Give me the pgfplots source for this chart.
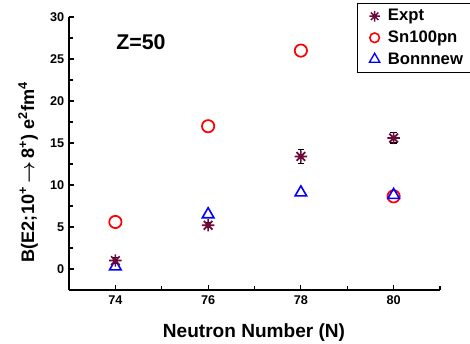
\documentclass[border=0pt]{standalone}
\usepackage{amsmath}
\usepackage{fontspec}
\setmainfont{Liberation Sans}
\usepackage{pgfplots}
\pgfplotsset{compat=1.18}
\definecolor{exptc}{HTML}{6A0A3A}
\pgfdeclareplotmark{ast8}{%
  \pgfpathmoveto{\pgfqpoint{0pt}{\pgfplotmarksize}}\pgfpathlineto{\pgfqpoint{0pt}{-\pgfplotmarksize}}%
  \pgfpathmoveto{\pgfqpoint{\pgfplotmarksize}{0pt}}\pgfpathlineto{\pgfqpoint{-\pgfplotmarksize}{0pt}}%
  \pgfpathmoveto{\pgfqpoint{.707\pgfplotmarksize}{.707\pgfplotmarksize}}\pgfpathlineto{\pgfqpoint{-.707\pgfplotmarksize}{-.707\pgfplotmarksize}}%
  \pgfpathmoveto{\pgfqpoint{-.707\pgfplotmarksize}{.707\pgfplotmarksize}}\pgfpathlineto{\pgfqpoint{.707\pgfplotmarksize}{-.707\pgfplotmarksize}}%
  \pgfusepathqstroke}
\begin{document}
\begin{tikzpicture}
\begin{axis}[scale only axis,
  width=278.25pt, height=204.75pt,
  xmin=73, xmax=81, ymin=-2.5, ymax=30,
  axis x line*=bottom, axis y line*=left,
  axis line style={black, line width=1.1pt},
  tick align=inside, tick style={black, line width=0.8pt},
  major tick length=4pt, minor tick length=3pt,
  xtick={74,76,78,80}, minor xtick={75,77,79,81},
  ytick={0,5,10,15,20,25,30}, minor ytick={2.5,7.5,12.5,17.5,22.5,27.5},
  /pgf/number format/assume math mode=true,
  ticklabel style={font=\bfseries\fontsize{9.5}{11}\selectfont},
  xticklabel style={yshift=-1pt},
  clip=false,
  legend style={at={(0.776,1.051)}, anchor=north west, draw=black, line width=0.6pt,
    font=\bfseries\fontsize{12.5}{14}\selectfont, row sep=2pt, column sep=4pt,
    inner xsep=9pt, inner ysep=2.5pt},
  legend cell align=left,
]
\addlegendimage{only marks, mark=ast8, mark size=4pt, color=exptc, line width=1.1pt}
\addlegendentry{Expt}
\addlegendimage{only marks, mark=o, mark size=3.6pt, color=red, line width=1.2pt}
\addlegendentry{Sn100pn}
\addlegendimage{only marks, mark=triangle, mark size=4.5pt, color=blue, line width=1.0pt}
\addlegendentry{Bonnnew}
\addplot[forget plot, only marks, mark=o, mark size=4.6pt, color=red, line width=1.3pt]
  coordinates {(74,5.6) (76,17.0) (78,26.0) (80,8.65)};
\addplot[forget plot, only marks, mark=triangle, mark size=5pt, color=blue, line width=1.2pt]
  coordinates {(74,0.3) (76,6.5) (78,9.1) (80,8.8)};
\addplot[forget plot, only marks, mark=ast8, mark size=4.6pt, color=exptc, line width=1.3pt,
  error bars/.cd, y dir=both, y explicit,
  error bar style={black, line width=0.8pt},
  error mark options={rotate=90, mark size=2.5pt, black, line width=0.8pt}]
  coordinates {(74,1.0) +- (0,0.35) (76,5.2) +- (0,0.3) (78,13.4) +- (0,0.8) (80,15.6) +- (0,0.6)};
\coordinate (O) at (rel axis cs:0,0);
\end{axis}
\pgfresetboundingbox
\begin{scope}[shift={([xshift=-51.75pt,yshift=-39.75pt]O)}, x=0.75pt, y=0.75pt]
\path[use as bounding box] (0,0) rectangle (470,343);
\node[font=\bfseries\fontsize{16}{18}\selectfont, anchor=base west, inner sep=0pt] at (116,293) {Z=50};
\node[font=\bfseries\fontsize{14.3}{16}\selectfont, anchor=base, inner sep=0pt] at (254,6) {Neutron Number (N)};
\node[font=\bfseries\fontsize{13.6}{16}\selectfont, rotate=90, anchor=center, inner sep=0pt] at (28,171)
  {B(E2;10\textsuperscript{+}\,$\boldsymbol{\rightarrow}$\,8\textsuperscript{+}) e\textsuperscript{2}fm\textsuperscript{4}};
\end{scope}
\end{tikzpicture}
\end{document}
